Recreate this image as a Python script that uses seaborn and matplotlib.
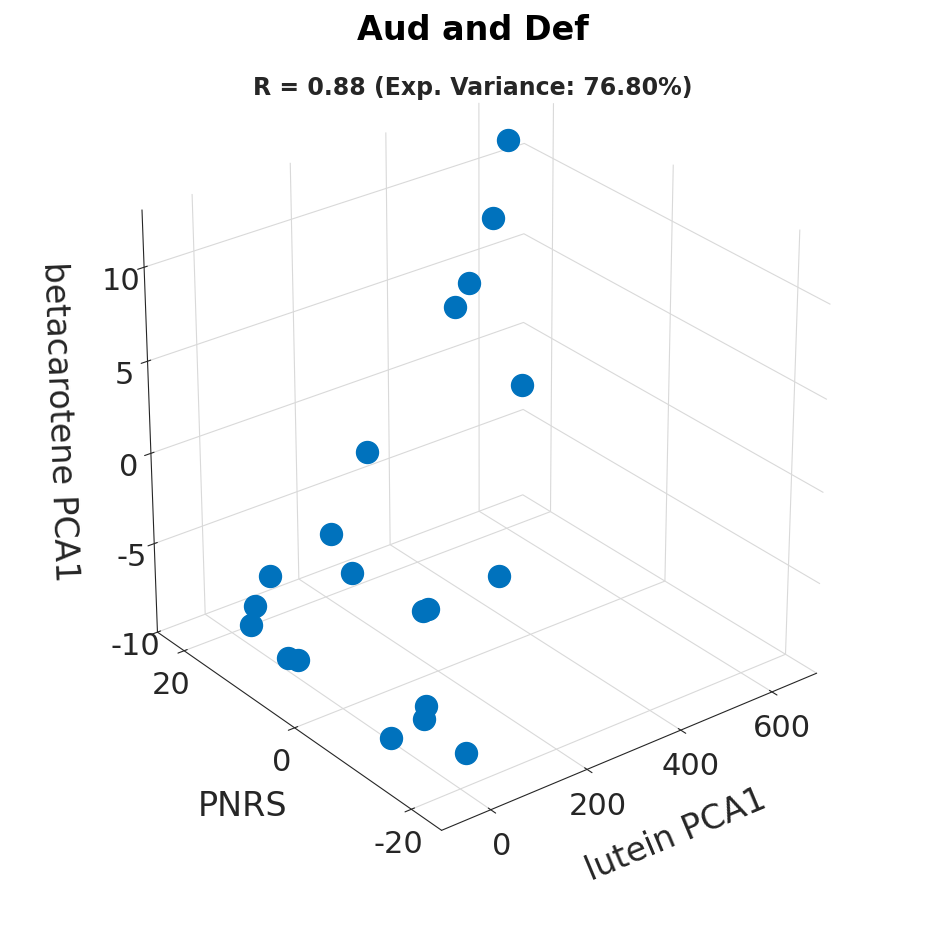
import numpy as np
import matplotlib
matplotlib.use("Agg")
import matplotlib.pyplot as plt
import seaborn as sns

sns.set_style("white")
plt.rcParams['font.family'] = ['DejaVu Sans']
plt.rcParams['axes.unicode_minus'] = False

lutein = [450, 380, 330, 300, 380, 150, 120, 140, 230, 240, 330, 60, 50, 40, 60, 70, 150, 120, 40, 110]
pnrs = [8, 5, 5, 5, 0, 8, 12, 10, 5, 5, 0, 18, 20, 20, 15, 14, -2, -4, -5, -12]
beta = [15, 12, 9, 8, 4, 1, -4, -6, -8, -8, -6, -7, -9, -10, -11, -11, -11, -11, -11, -11]

fig = plt.figure(figsize=(9.45, 9.45), dpi=100)
ax = fig.add_axes([0.0, 0.0, 1.0, 1.0], projection='3d')
ax.set_box_aspect((1, 1, 1.0), zoom=0.9)
ax.scatter(lutein, pnrs, beta, s=250, c='#0072BD', depthshade=False, alpha=1)
ax.set_xlim(-100, 700)
ax.set_ylim(-25, 25)
ax.set_zlim(-10, 13)
ax.set_xticks([0, 200, 400, 600])
ax.set_yticks([-20, 0, 20])
ax.set_zticks([-10, -5, 0, 5, 10])
ax.view_init(elev=28, azim=-128)
for a in (ax.xaxis, ax.yaxis, ax.zaxis):
    a.set_pane_color((1, 1, 1, 0))
    a._axinfo['grid']['color'] = (0.85, 0.85, 0.85, 1)
    a._axinfo['grid']['linewidth'] = 0.8
ax.tick_params(labelsize=22, colors='#262626')
ax.set_xlabel('lutein PCA1', fontsize=24, labelpad=25, color='#262626', rotation=0)
ax.set_ylabel('PNRS', fontsize=24, labelpad=25, color='#262626', rotation=0)
ax.set_zlabel('betacarotene PCA1', fontsize=24, labelpad=25, color='#262626')
ax.set_position([0.01, 0.04, 0.98, 0.95])
fig.suptitle('Aud and Def', fontsize=24, fontweight='bold', y=0.985, color='black')
fig.text(0.5, 0.9, 'R = 0.88 (Exp. Variance: 76.80%)', ha='center', fontsize=17, fontweight='bold')
fig.savefig('out.png', dpi=100)
